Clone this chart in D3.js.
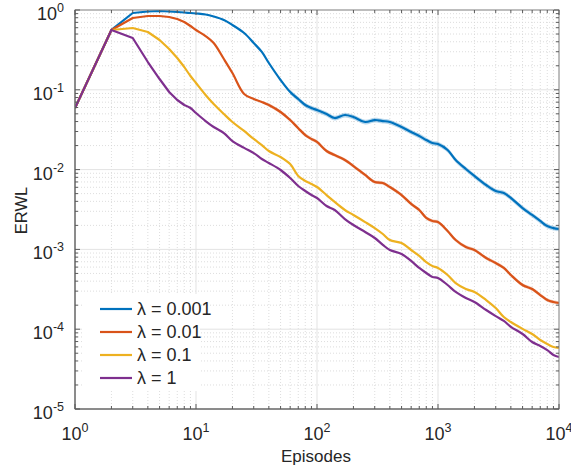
<!DOCTYPE html>
<html>
<head>
<meta charset="utf-8">
<script src="https://cdn.jsdelivr.net/npm/d3@7"></script>
<style>
  body { margin: 0; background: #fff; }
  svg { display: block; }
  text { font-family: "Liberation Sans", Arial, Helvetica, sans-serif; fill: #262626; }
</style>
</head>
<body>
<svg id="chart" width="571" height="469"></svg>
<script>
// Training episodes at which the error was sampled
const episodes = [1, 2, 3, 4, 5, 6, 7, 8, 9, 10, 12, 14, 17, 20, 25, 30, 35, 40, 50, 60, 70, 80, 90,
  100, 120, 140, 170, 200, 250, 300, 350, 400, 500, 600, 700, 800, 900,
  1000, 1200, 1400, 1700, 2000, 2500, 3000, 3500, 4000, 5000, 6000, 7000, 8000, 9000, 10000];

// ERWL for each regularisation weight
const erwlLambda0001 = [0.0591, 0.562, 0.917, 0.958, 0.972, 0.958, 0.944, 0.930, 0.917, 0.904, 0.878, 0.829, 0.749, 0.649,
  0.515, 0.386, 0.298, 0.2167, 0.1327, 0.0938, 0.0767, 0.0645, 0.0591,
  0.0558, 0.0497, 0.0443, 0.0483, 0.0456, 0.0395, 0.0418, 0.0406, 0.0395, 0.0342, 0.0296, 0.0264, 0.0235, 0.0215,
  0.0209, 0.0176, 0.0132, 0.01017, 0.00832, 0.00641, 0.00539, 0.00509, 0.00441, 0.00330, 0.00270, 0.00227, 0.00196, 0.00185, 0.00180];

const erwlLambda001 = [0.0591, 0.562, 0.794, 0.841, 0.841, 0.817, 0.771, 0.707, 0.630, 0.562, 0.472, 0.386, 0.243, 0.1623,
  0.0886, 0.0767, 0.0704, 0.0645, 0.0527, 0.0418, 0.0330, 0.0271, 0.0242,
  0.0222, 0.0171, 0.0152, 0.0132, 0.01109, 0.00856, 0.00699, 0.00679, 0.00605, 0.00480, 0.00371, 0.00312, 0.00248, 0.00227,
  0.00220, 0.00170, 0.00131, 0.00107, 0.000983, 0.000780, 0.000675, 0.000585, 0.000478, 0.000358, 0.000319, 0.000268, 0.000232, 0.000219, 0.000213];

const erwlLambda01 = [0.0591, 0.562, 0.595, 0.530, 0.421, 0.325, 0.250, 0.193, 0.149, 0.1217, 0.0861, 0.0664, 0.0497, 0.0395,
  0.0305, 0.0242, 0.0203, 0.0171, 0.01438, 0.01175, 0.00832, 0.00720, 0.00660,
  0.00605, 0.00480, 0.00393, 0.00312, 0.00270, 0.00220, 0.00185, 0.00156, 0.00131, 0.00120, 0.000983, 0.000827, 0.000695, 0.000619,
  0.000585, 0.000478, 0.000379, 0.000319, 0.000293, 0.000232, 0.000184, 0.000142, 0.000123, 0.000101, 0.0000871, 0.0000732, 0.0000652, 0.0000598, 0.0000581];

const erwlLambda1 = [0.0591, 0.562, 0.446, 0.223, 0.1365, 0.0938, 0.0745, 0.0645, 0.0591, 0.0512, 0.0406, 0.0342, 0.0287, 0.0228,
  0.0187, 0.0161, 0.01357, 0.01210, 0.00989, 0.00785, 0.00623, 0.00539, 0.00480,
  0.00441, 0.00350, 0.00312, 0.00240, 0.00202, 0.00165, 0.00139, 0.00114, 0.000983, 0.000876, 0.000716, 0.000585, 0.000506, 0.000451,
  0.000438, 0.000358, 0.000293, 0.000246, 0.000219, 0.000174, 0.000146, 0.000127, 0.000107, 0.0000871, 0.0000691, 0.0000616, 0.0000548, 0.0000475, 0.0000448];

const seriesNames = ["\u03bb = 0.001", "\u03bb = 0.01", "\u03bb = 0.1", "\u03bb = 1"];
// Relative half-width of the run-to-run spread, and the episode from which it is shaded
const spreadWidth = [0.07, 0.05, 0, 0];
const spreadFrom = [60, 40, Infinity, Infinity];

const xTickExponents = [0, 1, 2, 3, 4];
const yTickExponents = [0, -1, -2, -3, -4, -5];

const colors = ["#0072BD", "#D95319", "#EDB120", "#7E2F8E"];

const width = 571, height = 469;
const margin = { left: 75, right: 12, top: 10, bottom: 60 };
const svg = d3.select("#chart");

const x = d3.scaleLog().domain([1, 1e4]).range([margin.left, width - margin.right]);
const y = d3.scaleLog().domain([1e-5, 1]).range([height - margin.bottom, margin.top]);
const [x0, x1] = x.range();
const [y0, y1] = [y.range()[1], y.range()[0]];

const values = [erwlLambda0001, erwlLambda001, erwlLambda01, erwlLambda1];
const series = values.map((vals, i) => ({
  name: seriesNames[i],
  color: colors[i],
  points: episodes.map((e, j) => ({ e, v: vals[j] })),
  spread: spreadWidth[i],
  from: spreadFrom[i]
}));

// Minor and major tick positions for each log decade
function decadeTicks(scale) {
  const [lo, hi] = scale.domain();
  const major = [], minor = [];
  for (let p = Math.round(Math.log10(lo)); p <= Math.round(Math.log10(hi)); p++) {
    major.push(Math.pow(10, p));
    if (Math.pow(10, p) < hi) for (let k = 2; k <= 9; k++) minor.push(k * Math.pow(10, p));
  }
  return { major, minor };
}
const xt = decadeTicks(x), yt = decadeTicks(y);

svg.append("defs").append("clipPath").attr("id", "plot-clip")
  .append("rect").attr("x", x0).attr("y", y0).attr("width", x1 - x0).attr("height", y1 - y0);

// Grid
const grid = svg.append("g");
grid.selectAll(".gx-minor").data(xt.minor).join("line")
  .attr("x1", d => x(d)).attr("x2", d => x(d)).attr("y1", y0).attr("y2", y1)
  .attr("stroke", "#d4d4d4").attr("stroke-width", 0.8).attr("stroke-dasharray", "1,2");
grid.selectAll(".gy-minor").data(yt.minor).join("line")
  .attr("y1", d => y(d)).attr("y2", d => y(d)).attr("x1", x0).attr("x2", x1)
  .attr("stroke", "#d4d4d4").attr("stroke-width", 0.8).attr("stroke-dasharray", "1,2");
grid.selectAll(".gx-major").data(xt.major).join("line")
  .attr("x1", d => x(d)).attr("x2", d => x(d)).attr("y1", y0).attr("y2", y1)
  .attr("stroke", "#e3e3e3").attr("stroke-width", 1);
grid.selectAll(".gy-major").data(yt.major).join("line")
  .attr("y1", d => y(d)).attr("y2", d => y(d)).attr("x1", x0).attr("x2", x1)
  .attr("stroke", "#e3e3e3").attr("stroke-width", 1);

// Curves and their shaded spread
const plot = svg.append("g").attr("clip-path", "url(#plot-clip)");
const smooth = d3.curveCatmullRom.alpha(0.5);
const area = d3.area()
  .curve(smooth)
  .x(d => x(d.e))
  .y0(d => y(d.v * (1 - d.s)))
  .y1(d => y(d.v * (1 + d.s)));
// Early episodes joined point to point, later ones smoothed
const lineEarly = d3.line().x(d => x(d.e)).y(d => y(d.v));
const lineLate = d3.line().curve(smooth).x(d => x(d.e)).y(d => y(d.v));
const splitEpisode = 8;

series.forEach(s => {
  if (s.spread > 0) {
    const band = s.points.filter(p => p.e >= s.from).map(p => ({ e: p.e, v: p.v, s: s.spread }));
    plot.append("path").datum(band).attr("d", area)
      .attr("fill", s.color).attr("fill-opacity", 0.28).attr("stroke", "none");
  }
});
series.forEach(s => {
  const early = s.points.filter(p => p.e <= splitEpisode);
  const late = s.points.filter(p => p.e >= splitEpisode);
  const d = lineEarly(early) + lineLate(late).replace(/^M/, "L");
  plot.append("path").attr("d", d)
    .attr("fill", "none").attr("stroke", s.color).attr("stroke-width", 2.2)
    .attr("stroke-linejoin", "round");
});

// Axes box with inward ticks on all four sides
const axes = svg.append("g").attr("stroke", "#5a5a5a").attr("stroke-width", 1);
axes.append("rect").attr("x", x0).attr("y", y0).attr("width", x1 - x0).attr("height", y1 - y0)
  .attr("fill", "none").attr("stroke", "#8a8a8a");
axes.append("line").attr("x1", x0).attr("x2", x1).attr("y1", y1).attr("y2", y1);
axes.append("line").attr("x1", x0).attr("x2", x0).attr("y1", y0).attr("y2", y1);
const xAll = xt.major.concat(xt.minor), yAll = yt.major.concat(yt.minor);
xAll.forEach(d => {
  const L = xt.major.includes(d) ? 5 : 3;
  axes.append("line").attr("x1", x(d)).attr("x2", x(d)).attr("y1", y1).attr("y2", y1 - L);
  axes.append("line").attr("x1", x(d)).attr("x2", x(d)).attr("y1", y0).attr("y2", y0 + L);
});
yAll.forEach(d => {
  const L = yt.major.includes(d) ? 5 : 3;
  axes.append("line").attr("y1", y(d)).attr("y2", y(d)).attr("x1", x0).attr("x2", x0 + L);
  axes.append("line").attr("y1", y(d)).attr("y2", y(d)).attr("x1", x1).attr("x2", x1 - L);
});

// Tick labels as powers of ten
function powerLabel(sel, exp) {
  sel.append("tspan").text("10");
  sel.append("tspan").attr("dy", -8).attr("font-size", 12.5).text(exp);
}
xTickExponents.forEach(p => {
  const t = svg.append("text").attr("x", x(Math.pow(10, p))).attr("y", y1 + 31)
    .attr("text-anchor", "middle").attr("font-size", 18);
  powerLabel(t, String(p));
});
yTickExponents.forEach(p => {
  const t = svg.append("text").attr("x", x0 - 11).attr("y", y(Math.pow(10, p)) + 10)
    .attr("text-anchor", "end").attr("font-size", 18);
  powerLabel(t, String(p));
});

// Axis titles
svg.append("text").attr("x", (x0 + x1) / 2 - 1).attr("y", 462)
  .attr("text-anchor", "middle").attr("font-size", 17).text("Episodes");
svg.append("text").attr("transform", `translate(27, ${(y0 + y1) / 2 + 1}) rotate(-90)`)
  .attr("text-anchor", "middle").attr("font-size", 16.5).text("ERWL");

// Legend
const legend = svg.append("g");
legend.append("rect").attr("x", 82).attr("y", 294).attr("width", 118).attr("height", 97).attr("fill", "#fff");
series.forEach((s, i) => {
  const ly = 309 + i * 23;
  legend.append("line").attr("x1", 100).attr("x2", 132).attr("y1", ly).attr("y2", ly)
    .attr("stroke", s.color).attr("stroke-width", 2.2);
  legend.append("text").attr("x", 137).attr("y", ly + 6).attr("font-size", 18).text(s.name);
});
</script>
</body>
</html>
